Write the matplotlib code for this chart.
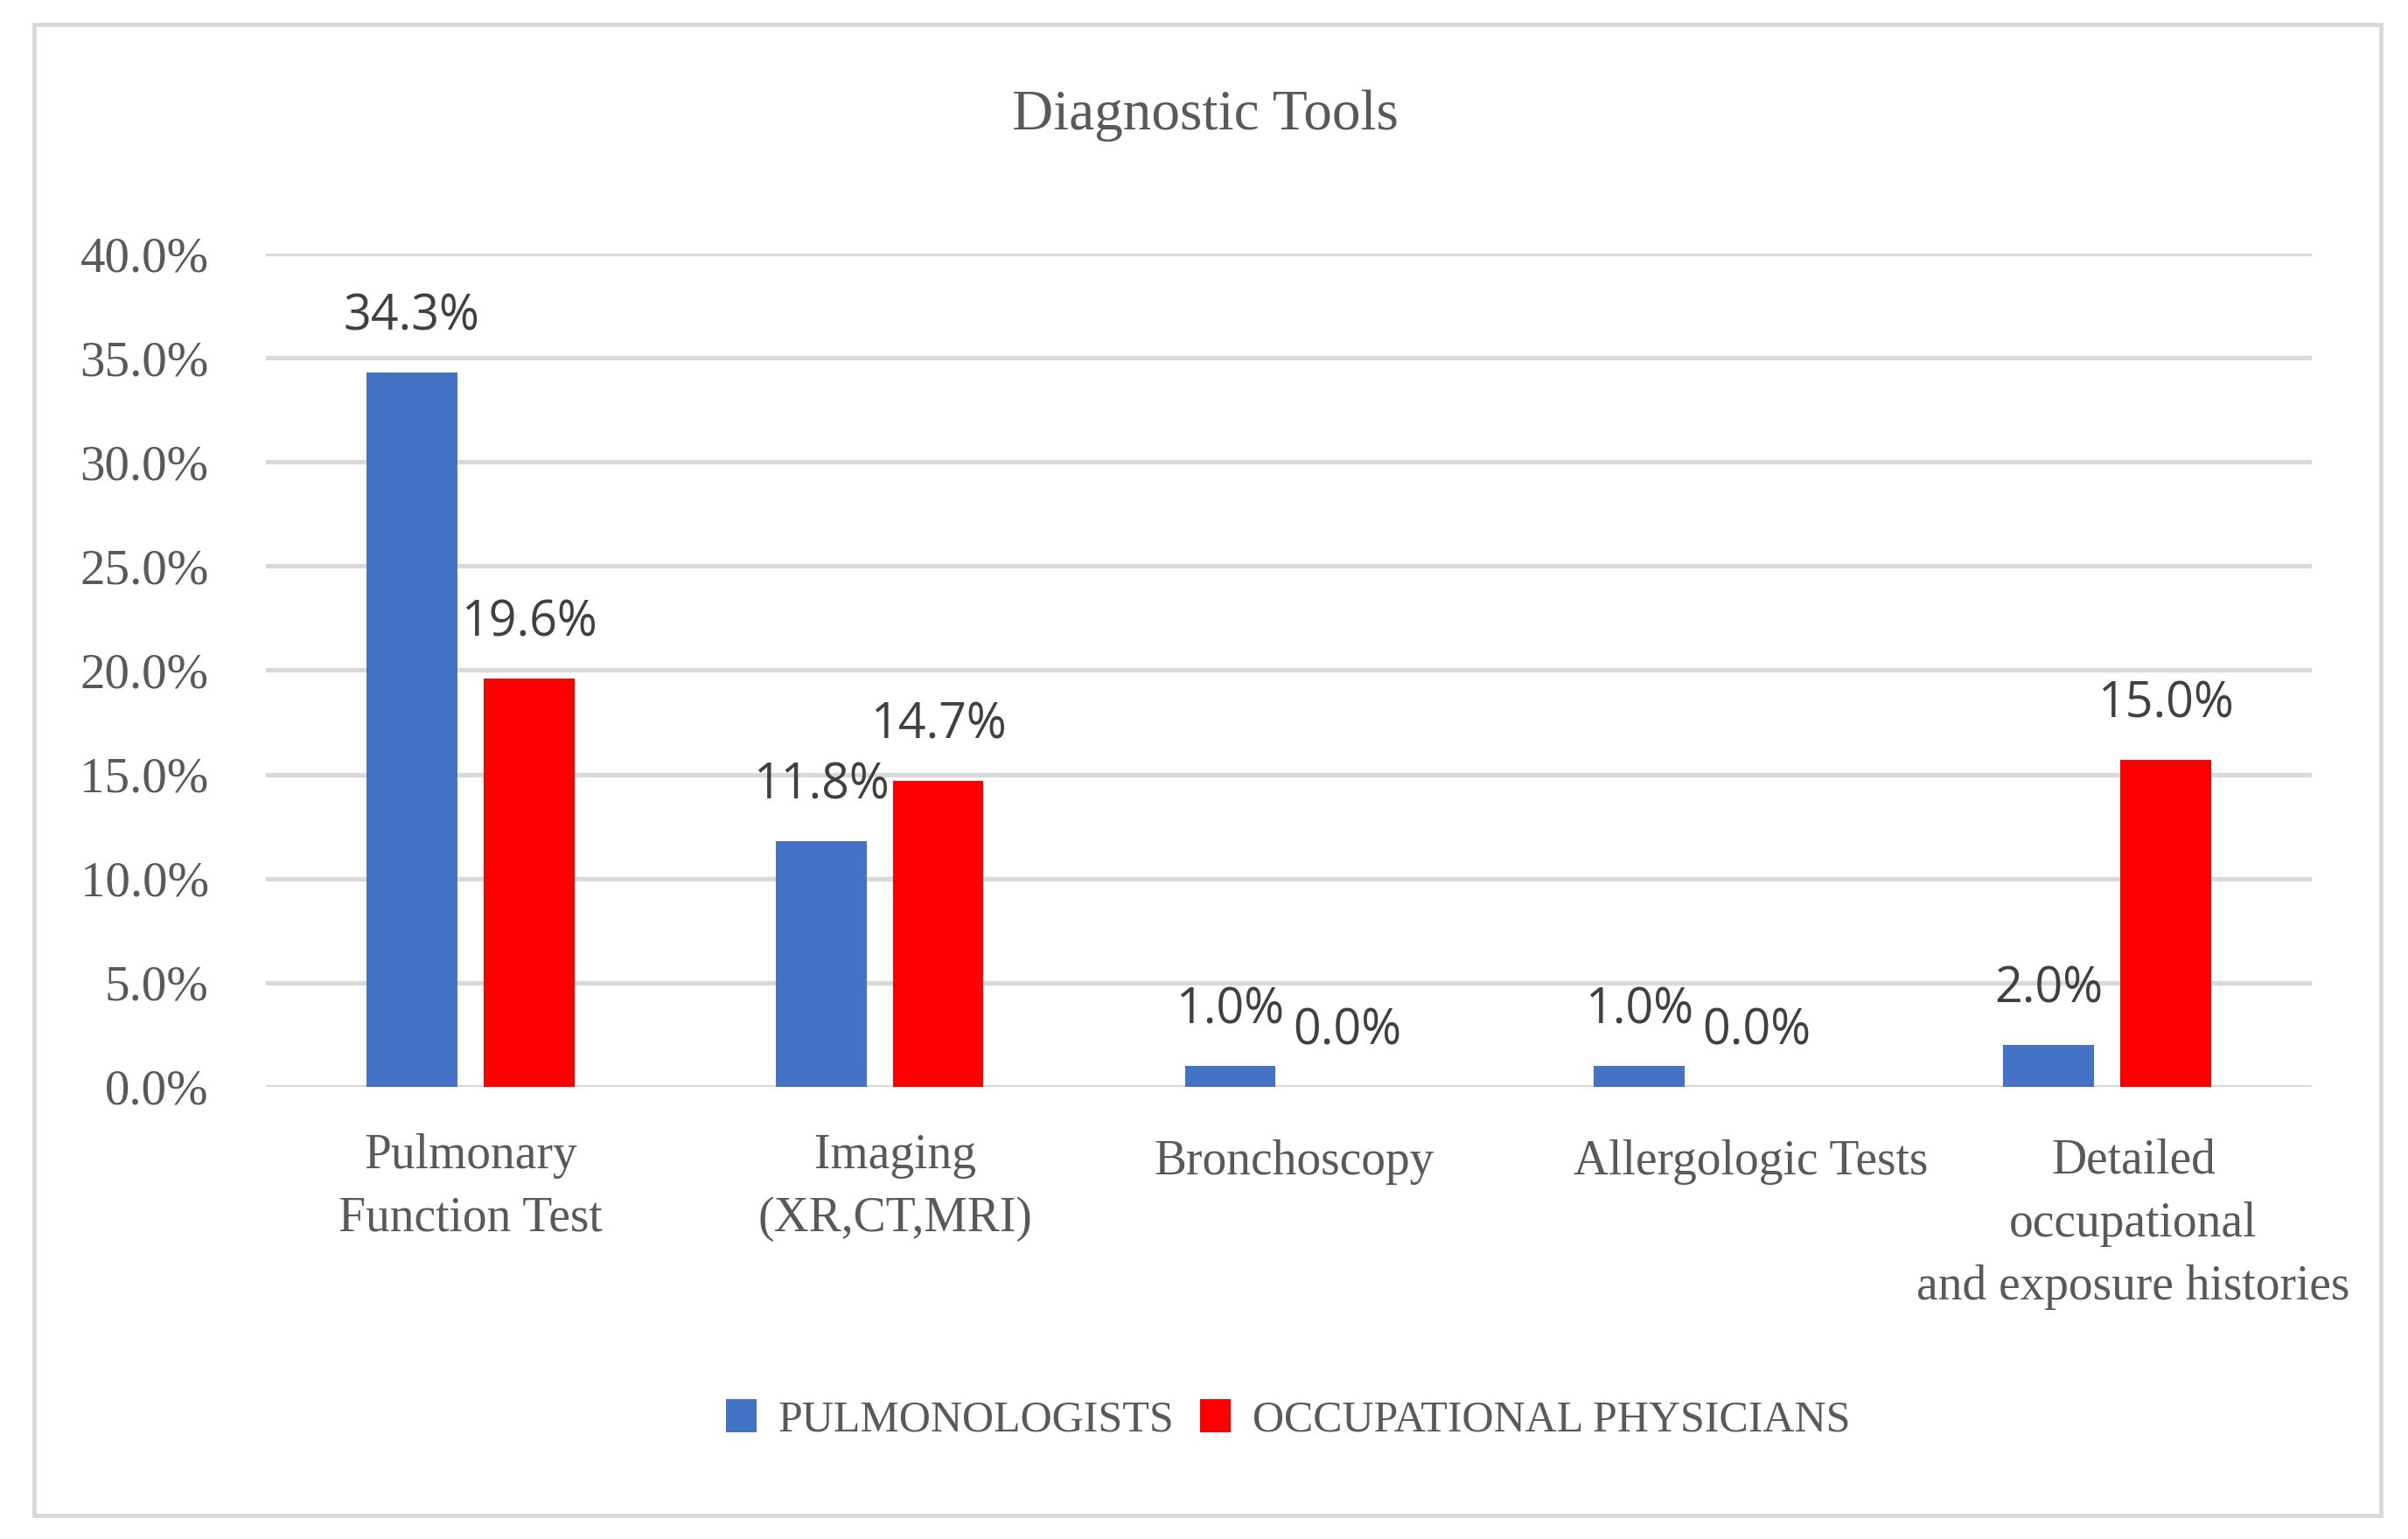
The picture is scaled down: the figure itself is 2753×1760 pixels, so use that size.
import matplotlib
matplotlib.use("Agg")
import matplotlib.pyplot as plt
from matplotlib.patches import Rectangle
from matplotlib.transforms import ScaledTranslation
import numpy as np

categories = ["Pulmonary\nFunction Test", "Imaging\n(XR,CT,MRI)", "Bronchoscopy",
              "Allergologic Tests", "Detailed\noccupational\nand exposure histories"]
pulmonologists = [34.3, 11.8, 1.0, 1.0, 2.0]
occupational = [19.6, 14.7, 0.0, 0.0, 15.7]
pulm_labels = ["34.3%", "11.8%", "1.0%", "1.0%", "2.0%"]
occ_labels = ["19.6%", "14.7%", "0.0%", "0.0%", "15.0%"]
yticks = [0, 5, 10, 15, 20, 25, 30, 35, 40]

blue = "#4472C4"
red = "#FF0000"
gray_txt = "#595959"
grid_col = "#D9D9D9"
serif = "Liberation Serif"

fig = plt.figure(figsize=(27.53, 17.60), dpi=100)
ax = fig.add_axes([0.1104, 0.2938, 0.8496, 0.5414])

x = np.arange(len(categories))
w = 0.222
off = 0.143
ax.bar(x - off, pulmonologists, w, color=blue, label="PULMONOLOGISTS", zorder=3)
ax.bar(x + off, occupational, w, color=red, label="OCCUPATIONAL PHYSICIANS", zorder=3)

for i in range(len(categories)):
    ax.annotate(pulm_labels[i], (x[i] - off, pulmonologists[i]), xytext=(0, 35),
                textcoords="offset points", ha="center", va="baseline",
                fontsize=40, family="Open Sans", color="#404040")
    ax.annotate(occ_labels[i], (x[i] + off, occupational[i]), xytext=(0, 35),
                textcoords="offset points", ha="center", va="baseline",
                fontsize=40, family="Open Sans", color="#404040")

ax.set_xlim(-0.5, len(categories) - 0.5)
ax.set_ylim(0, 40)
ax.set_yticks(yticks)
ax.set_yticklabels(["%.1f%%" % v for v in yticks], family=serif, fontsize=41, color=gray_txt)
ax.set_xticks(x)
ax.set_xticklabels(categories, family=serif, fontsize=40, color=gray_txt, linespacing=1.5)
ax.tick_params(axis="y", length=0, pad=47)
ax.tick_params(axis="x", length=0, pad=38)
ax.grid(axis="y", color=grid_col, linewidth=3.8, zorder=0)
for s in ax.spines.values():
    s.set_visible(False)

# excel nudges the category labels a bit to the right (inches)
nudge = [0, 0.18, 0.06, 0.6, 0.3]
for lbl, dx in zip(ax.get_xticklabels(), nudge):
    n = lbl.get_text().count("\n")
    dy = -0.07 if n == 0 else (-0.06 if n == 2 else 0)
    lbl.set_transform(lbl.get_transform() + ScaledTranslation(dx, dy, fig.dpi_scale_trans))

fig.text(0.5006, 0.916, "Diagnostic Tools", ha="center", va="baseline",
         family=serif, fontsize=47, color=gray_txt)

leg = ax.legend(loc="center", bbox_to_anchor=(0.535, 0.0773), bbox_transform=fig.transFigure,
                ncol=2, frameon=False, handlelength=0.7, handleheight=0.8,
                handletextpad=0.5, columnspacing=0.6,
                prop={"family": serif, "size": 36})
for t in leg.get_texts():
    t.set_color(gray_txt)

fig.patches.append(Rectangle((39 / 2753, 1 - 1733 / 1760), (2722 - 39) / 2753, (1733 - 28) / 1760,
                             transform=fig.transFigure, fill=False, edgecolor=grid_col, linewidth=3.5))

fig.savefig("out.png", dpi=100)
